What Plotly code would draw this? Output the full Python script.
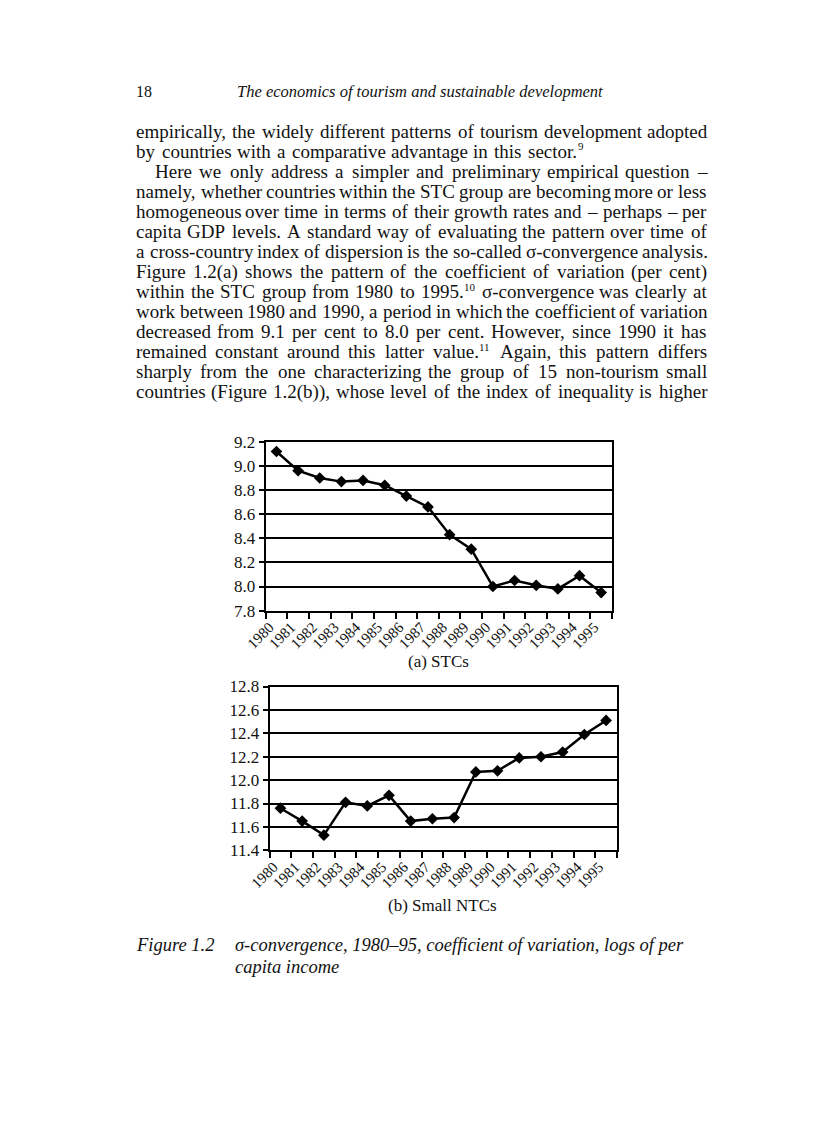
import re
import plotly.graph_objects as go

# The html body keeps its 8px margin, so the figure is 16px smaller than the
# 816x1123 page. The photographed page also came out slightly shrunk and
# shifted (about 0.984x, +15px / +9px), so reference pixels are mapped back.
PAGE_W, PAGE_H = 816, 1123
OFF = 8
W, H = PAGE_W - 2 * OFF, PAGE_H - 2 * OFF
SHOT_SCALE, SHOT_DX, SHOT_DY = 0.984, 15.0, 8.8
SERIF = "Liberation Serif"
INK = "#121212"
BODY = 19
SUP = 11

# ---- data ----
years = ["1980", "1981", "1982", "1983", "1984", "1985", "1986", "1987",
         "1988", "1989", "1990", "1991", "1992", "1993", "1994", "1995"]
stc_cv = [9.12, 8.96, 8.90, 8.87, 8.88, 8.84, 8.75, 8.66,
          8.43, 8.31, 8.00, 8.05, 8.01, 7.98, 8.09, 7.95]
ntc_cv = [11.76, 11.65, 11.53, 11.81, 11.78, 11.87, 11.65, 11.67,
          11.68, 12.07, 12.08, 12.19, 12.20, 12.24, 12.39, 12.51]
stc_range = [7.8, 9.2]
ntc_range = [11.4, 12.8]

header_left = "18"
header_title = "The economics of tourism and sustainable development"

body_lines = [
    "empirically, the widely different patterns of tourism development adopted",
    "by countries with a comparative advantage in this sector.^9",
    "Here we only address a simpler and preliminary empirical question –",
    "namely, whether countries within the STC group are becoming more or less",
    "homogeneous over time in terms of their growth rates and – perhaps – per",
    "capita GDP levels. A standard way of evaluating the pattern over time of",
    "a cross-country index of dispersion is the so-called σ-convergence analysis.",
    "Figure 1.2(a) shows the pattern of the coefficient of variation (per cent)",
    "within the STC group from 1980 to 1995.^10 σ-convergence was clearly at",
    "work between 1980 and 1990, a period in which the coefficient of variation",
    "decreased from 9.1 per cent to 8.0 per cent. However, since 1990 it has",
    "remained constant around this latter value.^11 Again, this pattern differs",
    "sharply from the one characterizing the group of 15 non-tourism small",
    "countries (Figure 1.2(b)), whose level of the index of inequality is higher",
]
# right edge of each line; the paragraph end runs short
line_end = {1: 582}
indented = {2}

caption_label = "Figure 1.2"
caption_lines = ["σ-convergence, 1980–95, coefficient of variation, logs of per",
                 "capita income"]
panel_labels = ["(a) STCs", "(b) Small NTCs"]

# Times / Liberation Serif advance widths (1/1000 em), used to justify lines
CHAR_W = {}
for chars, w in [(" .,", 250), ("ijlt", 278), ("frI()-", 333), ("sJ", 389),
                 ("acez", 444), ("bdghknopquvxy0123456789–", 500), ("σ", 550),
                 ("FPS", 556), ("ETLZ", 611), ("BCR", 667),
                 ("wADGHKNOQUVXY", 722), ("m", 778), ("M", 889), ("W", 944)]:
    for c in chars:
        CHAR_W[c] = w


def plain_width(s, size):
    return sum(CHAR_W.get(c, 500) for c in s) / 1000.0 * size


def split_sup(w):
    # "value.^11" -> ("value.", "11")
    if "^" in w:
        base, sup = w.split("^")
        return base, sup
    return w, ""


def word_width(w):
    base, sup = split_sup(w)
    return plain_width(base, BODY) + (plain_width(sup, SUP) + 1 if sup else 0)


# reference pixel -> page pixel -> paper fraction
def page_x(x):
    return (x - SHOT_DX) / SHOT_SCALE


def page_y(y):
    return (y - SHOT_DY) / SHOT_SCALE


def fx(xp):
    return (xp - OFF) / W


def fy(yp):
    return 1 - (yp - OFF) / H


def px(x):
    return fx(page_x(x))


def py(y):
    return fy(page_y(y))


annotations = []


def note(text, x, y, anchor="left", size=BODY, italic=False):
    annotations.append(dict(
        text=text, x=px(x), y=py(y), xref="paper", yref="paper",
        xanchor=anchor, yanchor="middle", showarrow=False, borderpad=0,
        font=dict(family=SERIF, size=size, color=INK,
                  style="italic" if italic else "normal"),
    ))


def place(text, xp, yp, size):
    annotations.append(dict(
        text=text, x=fx(xp), y=fy(yp), xref="paper", yref="paper",
        xanchor="left", yanchor="middle", showarrow=False, borderpad=0,
        font=dict(family=SERIF, size=size, color=INK),
    ))


def body_line(text, y, x0, x1):
    # words spread evenly between x0 and x1 (justified setting)
    x0p, x1p = page_x(x0), page_x(x1)
    yp = page_y(y)
    words = text.split(" ")
    widths = [word_width(w) for w in words]
    gap = (x1p - x0p - sum(widths)) / (len(words) - 1)
    xp = x0p
    for w, ww in zip(words, widths):
        base, sup = split_sup(w)
        place(base, xp, yp, BODY)
        if sup:
            place(sup, xp + plain_width(base, BODY) + 1, yp - 5, SUP)
        xp += ww + gap


# running head
note(header_left, 130, 91, size=16)
note(header_title, 418, 91, "center", size=16.5, italic=True)

# body text
for i, line in enumerate(body_lines):
    x0 = 149 if i in indented else 130
    body_line(line, 131 + i * 20.08, x0, line_end.get(i, 706))

# panel labels and caption
note(panel_labels[0], 437, 662, "center", size=17)
note(panel_labels[1], 441, 906, "center", size=17)
note(caption_label, 130, 946, size=18.5, italic=True)
note(caption_lines[0], 230, 946, size=18.5, italic=True)
note(caption_lines[1], 230, 968, size=18.5, italic=True)

fig = go.Figure()
for series, xa, ya in [(stc_cv, "x", "y"), (ntc_cv, "x2", "y2")]:
    fig.add_trace(go.Scatter(
        x=years, y=series, xaxis=xa, yaxis=ya, mode="lines+markers",
        line=dict(color="black", width=2.5),
        marker=dict(symbol="diamond", size=9, color="black"),
        showlegend=False, hoverinfo="skip",
    ))


def x_axis(left, right, anchor):
    return dict(
        domain=[px(left), px(right)], anchor=anchor, type="category",
        range=[-0.5, len(years) - 0.5], tickson="boundaries",
        ticks="outside", ticklen=6, tickwidth=2, tickcolor="black",
        showline=True, linewidth=2, linecolor="black", mirror=True,
        showgrid=False, tickangle=-45, ticklabelshift=-7,
        tickfont=dict(family=SERIF, size=15, color=INK),
    )


def y_axis(top, bottom, rng, anchor):
    return dict(
        domain=[py(bottom), py(top)], anchor=anchor, range=rng,
        tick0=rng[0], dtick=0.2, tickformat=".1f",
        ticks="outside", ticklen=5, tickwidth=2, tickcolor="black",
        showline=True, linewidth=2, linecolor="black", mirror=True,
        showgrid=True, gridcolor="black", gridwidth=1.5, zeroline=False,
        tickfont=dict(family=SERIF, size=17, color=INK),
    )


fig.update_layout(
    width=W, height=H,
    margin=dict(l=0, r=0, t=0, b=0),
    paper_bgcolor="white", plot_bgcolor="white",
    xaxis=x_axis(262, 612, "y"),
    yaxis=y_axis(442, 611, stc_range, "x"),
    xaxis2=x_axis(266, 617, "y2"),
    yaxis2=y_axis(687, 851, ntc_range, "x2"),
    annotations=annotations,
)

fig.write_html("out.html")
